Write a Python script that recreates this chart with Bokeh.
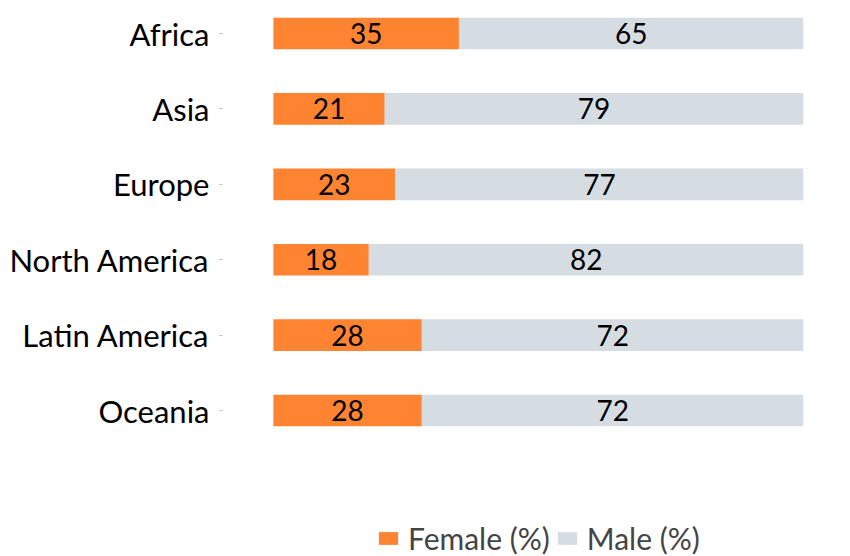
from bokeh.plotting import figure
from bokeh.models import Range1d, FixedTicker, Legend, LegendItem, ColumnDataSource
from bokeh.core.properties import value
from bokeh.embed import file_html
from bokeh.resources import INLINE

regions = ["Africa", "Asia", "Europe", "North America", "Latin America", "Oceania"]
female = [35, 21, 23, 18, 28, 28]
male = [65, 79, 77, 82, 72, 72]

FONT = "Lato"
ORANGE = "#FE8432"
GREY = "#D6DDE2"

ypos = list(range(len(regions)))
src = ColumnDataSource(dict(
    y=ypos,
    female=female,
    male=male,
    total=[f + m for f, m in zip(female, male)],
    zero=[0] * len(regions),
    fmid=[f / 2 for f in female],
    mmid=[f + m / 2 for f, m in zip(female, male)],
    flab=[str(v) for v in female],
    mlab=[str(v) for v in male],
))

p = figure(width=850, height=556, output_backend="svg", toolbar_location=None,
           x_range=Range1d(-9.6, 100), y_range=Range1d(6.936, -0.438),
           min_border_left=222, min_border_right=47, min_border_top=0, min_border_bottom=0)
p.outline_line_color = None
p.xaxis.visible = False
p.xgrid.visible = False
p.ygrid.visible = False

rf = p.hbar(y="y", left="zero", right="female", height=0.42, source=src,
            fill_color=ORANGE, line_color=None)
rm = p.hbar(y="y", left="female", right="total", height=0.42, source=src,
            fill_color=GREY, line_color=None)

p.text(x="fmid", y="y", text="flab", source=src, text_align="center",
       text_baseline="middle", text_font=value(FONT), text_font_size="28px",
       text_color="black")
p.text(x="mmid", y="y", text="mlab", source=src, text_align="center",
       text_baseline="middle", text_font=value(FONT), text_font_size="28px",
       text_color="black")

ax = p.yaxis[0]
ax.ticker = FixedTicker(ticks=ypos)
ax.major_label_overrides = {i: r for i, r in enumerate(regions)}
ax.axis_line_color = None
ax.major_tick_in = 0
ax.major_tick_out = 3
ax.major_tick_line_color = "#BBBBBB"
ax.minor_tick_line_color = None
ax.major_label_standoff = 10
ax.major_label_text_font = FONT
ax.major_label_text_font_size = "31px"
ax.major_label_text_color = "black"

legend = Legend(items=[LegendItem(label="Female (%)", renderers=[rf]),
                       LegendItem(label="Male (%)", renderers=[rm])],
                orientation="horizontal", location=(154, 0),
                border_line_color=None, background_fill_alpha=0,
                label_text_font=FONT, label_text_font_size="30px",
                glyph_width=24, glyph_height=16, label_standoff=8,
                spacing=5, padding=0, margin=0)
p.add_layout(legend, "center")

open("out.html", "w").write(file_html(p, INLINE))
